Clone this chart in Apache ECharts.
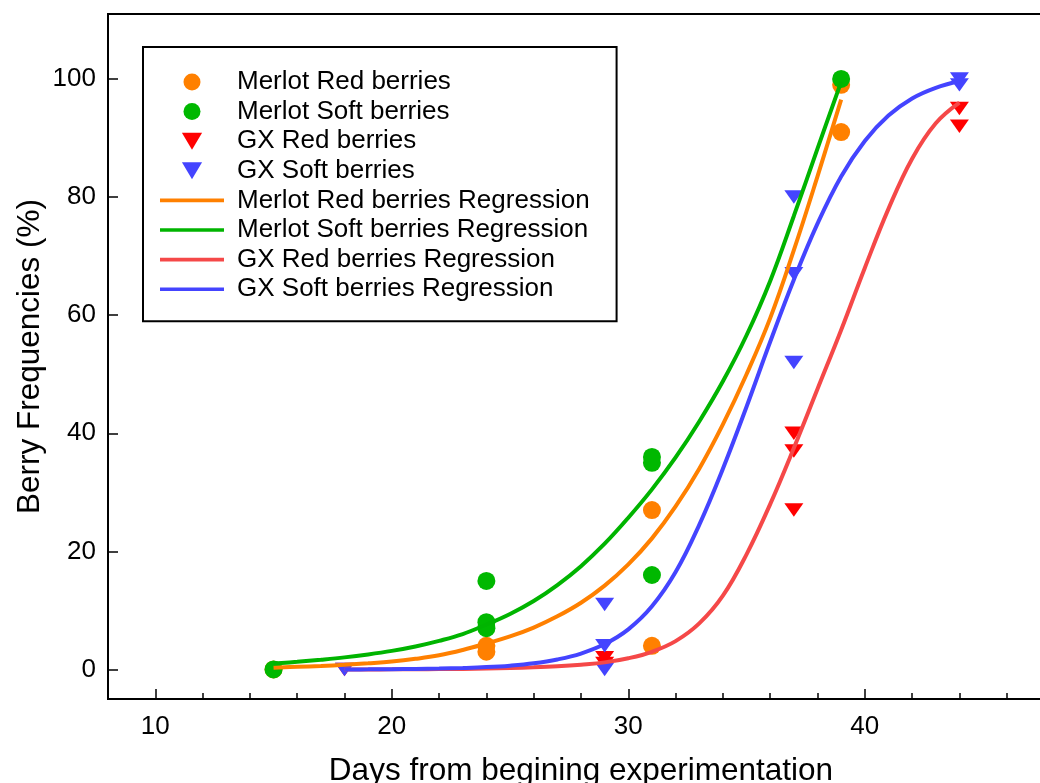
<!DOCTYPE html>
<html>
<head>
<meta charset="utf-8">
<script src="https://cdn.jsdelivr.net/npm/echarts@6/dist/echarts.min.js"></script>
<style>
html,body{margin:0;padding:0;overflow:hidden;background:#fff;}
#chart{width:1060px;height:783px;}
</style>
</head>
<body>
<div id="chart"></div>
<script>
// observed points (day, %)
var merlotRedDays   = [15, 24, 24, 31, 31, 39, 39];
var merlotRedVals   = [0, 4, 3, 27, 4, 99, 91];
var merlotSoftDays  = [15, 24, 24, 24, 31, 31, 31, 39];
var merlotSoftVals  = [0, 15, 8, 7, 36, 35, 16, 100];
var gxRedDays       = [18, 29, 29, 37, 37, 37, 44, 44];
var gxRedVals       = [0, 2, 1, 40, 37, 27, 95, 92];
var gxSoftDays      = [18, 29, 29, 29, 37, 37, 37, 44, 44];
var gxSoftVals      = [0, 11, 4, 0, 80, 67, 52, 100, 99];

// regression curves, one value per day
var merlotFitDays   = [15, 16, 17, 18, 19, 20, 21, 22, 23, 24, 25, 26, 27, 28, 29, 30, 31, 32, 33, 34, 35, 36, 37, 38, 39];
var merlotRedFit    = [0.3, 0.45, 0.6, 0.8, 1.05, 1.35, 1.8, 2.4, 3.3, 4.4, 5.6, 7.1, 9, 11.3, 14.2, 17.8, 22.2, 27.6, 34, 41.5, 50, 59.5, 71, 83.5, 96.5];
var merlotSoftFit   = [1, 1.3, 1.65, 2.05, 2.55, 3.15, 3.9, 4.85, 6, 7.6, 9.4, 11.6, 14.3, 17.5, 21.3, 25.7, 30.5, 35.9, 42, 48.8, 56.6, 65.8, 76.8, 88.2, 99.5];
var gxFitDays       = [18, 19, 20, 21, 22, 23, 24, 25, 26, 27, 28, 29, 30, 31, 32, 33, 34, 35, 36, 37, 38, 39, 40, 41, 42, 43, 44];
var gxRedFit        = [0, 0.01, 0.02, 0.04, 0.07, 0.1, 0.15, 0.25, 0.37, 0.55, 0.82, 1.2, 1.9, 3, 4.8, 7.8, 12.5, 19.5, 28, 37.5, 47.5, 57.5, 68, 78, 86.5, 92.5, 96];
var gxSoftFit       = [0, 0.02, 0.05, 0.09, 0.15, 0.25, 0.4, 0.65, 1.05, 1.7, 2.7, 4.3, 6.8, 10.7, 16.5, 24.5, 34, 44.5, 55.5, 66, 75.5, 83.5, 89.5, 93.8, 96.7, 98.5, 99.6];

var yTicks = [0, 20, 40, 60, 80, 100];
var xTicks = [10, 20, 30, 40];

function pairs(xs, ys) {
  return xs.map(function (x, i) { return [x, ys[i]]; });
}

var TRI = 'path://M0,0L19,0L9.5,16Z';
var BAR = 'path://M0,0L64,0L64,3.6L0,3.6Z';
var FONT = 'Liberation Sans, Arial, sans-serif';

var chart = echarts.init(document.getElementById('chart'));
var option = {
  animation: false,
  backgroundColor: '#fff',
  textStyle: { fontFamily: FONT },
  grid: {
    left: 108, top: 14, right: 6, bottom: 84,
    outerBoundsMode: 'none',
    show: true, borderColor: '#000', borderWidth: 2
  },
  legend: {
    orient: 'vertical',
    left: 143, top: 47,
    padding: [22, 27, 19, 17],
    borderColor: '#000', borderWidth: 2,
    itemWidth: 64, itemHeight: 17, itemGap: 3.6,
    symbolKeepAspect: true,
    textStyle: { fontSize: 26, color: '#000', fontFamily: FONT, lineHeight: 26, padding: [0, 0, 0, 8] },
    data: [
      { name: 'Merlot Red berries' },
      { name: 'Merlot Soft berries' },
      { name: 'GX Red berries' },
      { name: 'GX Soft berries' },
      { name: 'Merlot Red berries Regression', icon: BAR },
      { name: 'Merlot Soft berries Regression', icon: BAR },
      { name: 'GX Red berries Regression', icon: BAR },
      { name: 'GX Soft berries Regression', icon: BAR }
    ]
  },
  xAxis: [
    {
      type: 'value', min: 8, max: 48, interval: 2,
      axisLine: { show: true, onZero: false, lineStyle: { color: '#000', width: 2 } },
      axisTick: { inside: true, length: 6, lineStyle: { color: '#000', width: 1.5 } },
      axisLabel: { show: false },
      splitLine: { show: false },
      name: 'Days from begining experimentation',
      nameLocation: 'middle', nameGap: 56, nameMoveOverlap: false,
      nameTextStyle: { fontSize: 31.5, color: '#000', fontFamily: FONT }
    },
    {
      type: 'value', min: 8, max: 48, position: 'bottom',
      axisLine: { show: false, onZero: false },
      axisTick: { inside: true, length: 10, customValues: xTicks, lineStyle: { color: '#000', width: 1.5 } },
      axisLabel: { customValues: xTicks, fontSize: 26, margin: 15, color: '#000', fontFamily: FONT },
      splitLine: { show: false }
    }
  ],
  yAxis: {
    type: 'value', min: -5, max: 111,
    axisLine: { show: true, onZero: false, lineStyle: { color: '#000', width: 2 } },
    axisTick: { inside: true, length: 10, customValues: yTicks, lineStyle: { color: '#000', width: 1.5 } },
    axisLabel: { customValues: yTicks, fontSize: 26, margin: 12, color: '#000', fontFamily: FONT },
    splitLine: { show: false },
    name: 'Berry Frequencies (%)',
    nameLocation: 'middle', nameGap: 62, nameMoveOverlap: false,
    nameTextStyle: { fontSize: 31.5, color: '#000', fontFamily: FONT }
  },
  series: [
    { name: 'Merlot Red berries', type: 'scatter', symbol: 'circle', symbolSize: 18,
      itemStyle: { color: '#FF8000', opacity: 1 }, data: pairs(merlotRedDays, merlotRedVals) },
    { name: 'Merlot Soft berries', type: 'scatter', symbol: 'circle', symbolSize: 18,
      itemStyle: { color: '#00B800', opacity: 1 }, data: pairs(merlotSoftDays, merlotSoftVals) },
    { name: 'GX Red berries', type: 'scatter', symbol: TRI, symbolKeepAspect: true, symbolSize: [19, 16],
      itemStyle: { color: '#FF0000', opacity: 1 }, data: pairs(gxRedDays, gxRedVals) },
    { name: 'GX Soft berries', type: 'scatter', symbol: TRI, symbolKeepAspect: true, symbolSize: [19, 16],
      itemStyle: { color: '#4444FF', opacity: 1 }, data: pairs(gxSoftDays, gxSoftVals) },
    { name: 'Merlot Red berries Regression', type: 'line', symbol: 'none', smooth: 0.4,
      lineStyle: { color: '#FF8000', width: 4 }, itemStyle: { color: '#FF8000' },
      data: pairs(merlotFitDays, merlotRedFit) },
    { name: 'Merlot Soft berries Regression', type: 'line', symbol: 'none', smooth: 0.4,
      lineStyle: { color: '#00B400', width: 4 }, itemStyle: { color: '#00B400' },
      data: pairs(merlotFitDays, merlotSoftFit) },
    { name: 'GX Red berries Regression', type: 'line', symbol: 'none', smooth: 0.4,
      lineStyle: { color: '#F54848', width: 4 }, itemStyle: { color: '#F54848' },
      data: pairs(gxFitDays, gxRedFit) },
    { name: 'GX Soft berries Regression', type: 'line', symbol: 'none', smooth: 0.4,
      lineStyle: { color: '#4444FF', width: 4 }, itemStyle: { color: '#4444FF' },
      data: pairs(gxFitDays, gxSoftFit) }
  ]
};
chart.setOption(option);
</script>
</body>
</html>
